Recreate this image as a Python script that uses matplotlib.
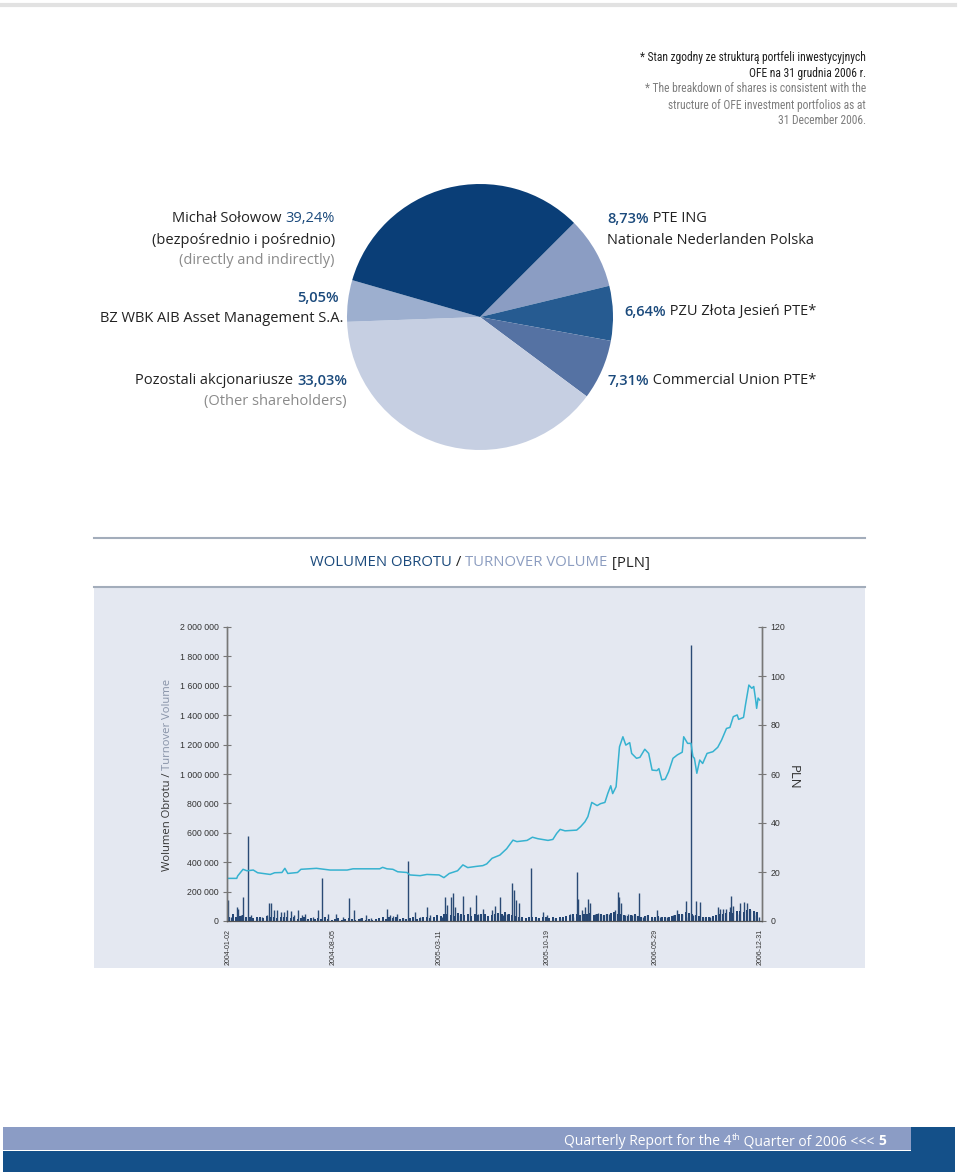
import matplotlib
matplotlib.use('Agg')
import matplotlib.pyplot as plt
import matplotlib.ticker as mticker
from matplotlib import font_manager
import pandas as pd
from matplotlib.patches import Rectangle
from matplotlib.lines import Line2D

# ---------------- DATA ----------------
# Pie (shareholder structure) - wedge order clockwise from upper right, as drawn
wedge_names = ["PTE ING", "PZU Złota Jesień", "Commercial Union", "Pozostali", "BZ WBK AIB", "Michał Sołowow"]
wedge_sizes = [8.73, 6.64, 7.31, 39.24, 5.05, 33.03]
wedge_colors = ["#8b9dc3", "#265b91", "#5572a3", "#c6cfe2", "#9dafcf", "#0a3e77"]

# Price line (PLN)
price_dates = [
    "2004-01-02", "2004-01-20", "2004-01-22", "2004-02-02", "2004-02-10", "2004-02-23", "2004-03-03",
    "2004-03-29", "2004-04-07", "2004-04-22", "2004-04-28", "2004-05-04", "2004-05-24", "2004-05-31",
    "2004-07-02", "2004-07-30", "2004-09-03", "2004-09-15", "2004-11-09", "2004-11-15", "2004-11-24",
    "2004-12-06", "2004-12-16", "2005-01-04", "2005-01-10", "2005-01-31", "2005-02-14", "2005-03-11",
    "2005-03-21", "2005-04-01", "2005-04-18", "2005-04-29", "2005-05-09", "2005-05-27", "2005-06-09",
    "2005-06-17", "2005-06-28", "2005-07-14", "2005-07-28", "2005-08-04", "2005-08-10", "2005-08-18",
    "2005-09-08", "2005-09-19", "2005-09-30", "2005-10-21", "2005-10-31", "2005-11-08", "2005-11-15",
    "2005-11-25", "2005-12-19", "2005-12-27", "2006-01-05", "2006-01-11", "2006-01-19", "2006-01-30",
    "2006-02-06", "2006-02-15", "2006-02-21", "2006-02-27", "2006-03-03", "2006-03-10", "2006-03-17",
    "2006-03-24", "2006-03-30", "2006-04-07", "2006-04-11", "2006-04-21", "2006-04-28", "2006-05-08",
    "2006-05-16", "2006-05-23", "2006-06-02", "2006-06-06", "2006-06-12", "2006-06-19", "2006-06-26",
    "2006-07-05", "2006-07-14", "2006-07-24", "2006-07-27", "2006-08-04", "2006-08-11", "2006-08-15",
    "2006-08-18", "2006-08-23", "2006-08-29", "2006-09-04", "2006-09-13", "2006-09-25", "2006-10-05",
    "2006-10-13", "2006-10-23", "2006-10-30", "2006-11-06", "2006-11-14", "2006-11-17", "2006-11-27",
    "2006-12-01", "2006-12-08", "2006-12-14", "2006-12-18", "2006-12-22", "2006-12-24", "2006-12-27",
    "2006-12-30",
]
price_values = [
    17.4, 17.4, 18.4, 21.1, 20.5, 20.8, 19.7,
    19.0, 19.7, 19.8, 21.5, 19.4, 19.8, 21.1,
    21.5, 20.8, 20.8, 21.3, 21.3, 21.9, 21.3,
    21.1, 20.1, 19.8, 18.8, 18.5, 19.0, 18.8,
    17.7, 19.4, 20.5, 22.9, 21.8, 22.3, 22.6,
    23.3, 25.6, 26.9, 29.5, 31.4, 33.0, 32.4,
    32.9, 34.2, 33.6, 32.9, 33.3, 35.8, 37.4,
    36.8, 37.1, 38.5, 40.5, 42.6, 48.4, 47.1,
    47.9, 48.4, 52.1, 55.2, 52.0, 54.8, 71.1,
    75.2, 71.8, 72.8, 68.4, 66.4, 66.8, 70.1,
    68.4, 61.6, 61.4, 62.2, 57.6, 57.9, 60.9,
    66.4, 67.8, 68.9, 75.2, 72.5, 72.5, 67.1,
    66.4, 60.3, 65.7, 64.3, 68.4, 69.1, 70.9,
    73.9, 78.6, 79.0, 83.4, 84.1, 82.3, 83.1,
    88.2, 96.3, 95.0, 95.7, 90.2, 86.8, 91.0,
    90.2,
]

# Notable volume sessions (PLN)
spike_dates = [
    "2004-01-02", "2004-01-09", "2004-01-20", "2004-01-22", "2004-01-29", "2004-02-02", "2004-02-13",
    "2004-02-18", "2004-03-01", "2004-03-11", "2004-03-22", "2004-03-26", "2004-03-31", "2004-04-05",
    "2004-04-12", "2004-04-21", "2004-04-26", "2004-05-03", "2004-05-10", "2004-05-17", "2004-05-26",
    "2004-06-02", "2004-06-08", "2004-06-25", "2004-07-06", "2004-07-14", "2004-07-26", "2004-08-11",
    "2004-08-26", "2004-09-07", "2004-09-17", "2004-09-29", "2004-10-12", "2004-10-22", "2004-11-23",
    "2004-11-30", "2004-12-07", "2004-12-14", "2004-12-27", "2005-01-07", "2005-01-20", "2005-01-31",
    "2005-02-14", "2005-02-21", "2005-03-18", "2005-03-23", "2005-03-28", "2005-04-04", "2005-04-08",
    "2005-04-12", "2005-04-18", "2005-04-29", "2005-05-13", "2005-05-26", "2005-05-31", "2005-06-10",
    "2005-06-27", "2005-07-04", "2005-07-15", "2005-07-21", "2005-07-29", "2005-08-08", "2005-08-12",
    "2005-08-17", "2005-08-22", "2005-08-26", "2005-09-16", "2005-09-27", "2005-10-11", "2005-10-18",
    "2005-11-01", "2005-11-14", "2005-12-05", "2005-12-12", "2005-12-19", "2005-12-22", "2005-12-29",
    "2006-01-05", "2006-01-12", "2006-01-16", "2006-01-26", "2006-02-01", "2006-02-07", "2006-02-17",
    "2006-02-24", "2006-03-07", "2006-03-14", "2006-03-17", "2006-03-21", "2006-03-28", "2006-04-04",
    "2006-04-11", "2006-04-18", "2006-04-26", "2006-05-05", "2006-05-12", "2006-05-22", "2006-06-02",
    "2006-06-08", "2006-06-22", "2006-07-05", "2006-07-14", "2006-07-24", "2006-07-31", "2006-08-04",
    "2006-08-10", "2006-08-15", "2006-08-21", "2006-08-29", "2006-09-05", "2006-09-19", "2006-10-05",
    "2006-10-10", "2006-10-16", "2006-10-23", "2006-10-30", "2006-11-02", "2006-11-06", "2006-11-13",
    "2006-11-20", "2006-11-28", "2006-12-04", "2006-12-11", "2006-12-18", "2006-12-22", "2006-12-29",
]
spike_volumes = [
    143000, 27000, 97000, 80000, 41000, 165000, 578000,
    41000, 18000, 27000, 41000, 120000, 120000, 76000,
    76000, 64000, 64000, 77000, 70000, 41000, 75000,
    41000, 50000, 27000, 77000, 290000, 50000, 45000,
    27000, 159000, 77000, 18000, 41000, 18000, 83000,
    41000, 35000, 50000, 23000, 410000, 64000, 27000,
    93000, 41000, 27000, 165000, 109000, 165000, 188000,
    93000, 41000, 170000, 93000, 175000, 50000, 83000,
    75000, 100000, 160000, 41000, 50000, 260000, 211000,
    143000, 120000, 18000, 360000, 18000, 64000, 41000,
    18000, 18000, 50000, 27000, 331000, 150000, 76000,
    93000, 150000, 120000, 50000, 55000, 41000, 50000,
    50000, 76000, 197000, 165000, 120000, 41000, 50000,
    41000, 41000, 188000, 27000, 41000, 18000, 77000,
    27000, 27000, 41000, 76000, 50000, 135000, 27000,
    1878000, 41000, 135000, 127000, 27000, 27000, 93000,
    83000, 83000, 83000, 93000, 170000, 100000, 50000,
    120000, 127000, 120000, 76000, 64000, 41000, 27000,
]

# Background weekly turnover (PLN thousands), weeks starting 2004-01-05
base_start = "2004-01-05"
base_volumes_k = [
    30, 45, 25, 35, 40, 30, 25, 20, 25, 30, 20, 35, 25, 30, 20, 25, 30,
    25, 20, 30, 15, 20, 25, 15, 20, 15, 20, 15, 25, 15, 10, 15, 20, 10, 15,
    20, 15, 10, 15, 20, 10, 15, 10, 15, 20, 25, 15, 30, 20, 25, 15, 20,
    15, 20, 25, 15, 20, 25, 30, 20, 25, 40, 35, 50, 45, 40, 35, 55, 45,
    40, 50, 35, 45, 40, 50, 45, 35, 40, 45, 55, 50, 60, 50, 40, 35, 30, 25,
    20, 25, 30, 25, 20, 30, 25, 20, 25, 20, 25, 30, 35, 40, 45, 50, 40,
    50, 45, 55, 40, 45, 50, 40, 45, 55, 60, 50, 45, 40, 35, 40, 45, 35,
    30, 35, 40, 30, 25, 35, 30, 25, 30, 35, 40, 45, 50, 60, 55, 45, 40, 35,
    30, 25, 30, 35, 40, 45, 50, 55, 60, 55, 65, 70, 60, 75, 80, 70, 60,
]

xtick_labels = ["2004-01-02", "2004-08-05", "2005-03-11", "2005-10-19", "2006-05-29", "2006-12-31"]
vol_ticks = [0, 200000, 400000, 600000, 800000, 1000000, 1200000, 1400000, 1600000, 1800000, 2000000]
price_ticks = [0, 20, 40, 60, 80, 100, 120]

# ---------------- FIGURE ----------------
W, H = 960, 1175
fig = plt.figure(figsize=(W / 100, H / 100), dpi=100)
fig.patch.set_facecolor("white")

MAIN = ["Open Sans", "Noto Sans", "DejaVu Sans"]
_installed = {f.name for f in font_manager.fontManager.ttflist}
if "Roboto Condensed" in _installed:
    NARROW, NOTE_SIZE = ["Roboto Condensed", "DejaVu Sans"], 8.3
elif "Liberation Sans Narrow" in _installed:
    NARROW, NOTE_SIZE = ["Liberation Sans Narrow", "DejaVu Sans"], 8.5
else:
    NARROW, NOTE_SIZE = ["Roboto", "Liberation Sans", "DejaVu Sans"], 7.9
SMALL = ["Liberation Sans", "DejaVu Sans"]
BLUE = "#1b4a7c"
GRAY = "#8a8a8a"
TXT = "#222222"


def fx(px):
    return px / W


def fy(py):
    return 1 - py / H


renderer = fig.canvas.get_renderer()


def rich(x, y, parts, ha="left", va="center", size=10.5, family=MAIN):
    texts = []
    for s, kw in parts:
        kw = dict(kw)
        dy = kw.pop("dy", 0)
        opts = dict(fontsize=size, family=family, color=TXT, va=va, ha="left")
        opts.update(kw)
        t = fig.text(0, fy(y - dy), s, **opts)
        texts.append(t)
    widths = [t.get_window_extent(renderer).width / fig.bbox.width for t in texts]
    total = sum(widths)
    if ha == "left":
        start = fx(x)
    elif ha == "right":
        start = fx(x) - total
    else:
        start = fx(x) - total / 2
    for t, w in zip(texts, widths):
        t.set_x(start)
        start += w
    return texts


# top rule
fig.add_artist(Line2D([0.0, fx(955)], [fy(5), fy(5)], color="#e2e2e2", lw=3))

# footnote
notes = [
    ("* Stan zgodny ze strukturą portfeli inwestycyjnych", "#1e1e1e", 57),
    ("OFE na 31 grudnia 2006 r.", "#1e1e1e", 73),
    ("* The breakdown of shares is consistent with the", "#7d7d7d", 89),
    ("structure of OFE investment portfolios as at", "#7d7d7d", 105),
    ("31 December 2006.", "#7d7d7d", 121),
]
for s, c, yy in notes:
    fig.text(fx(866), fy(yy), s, ha="right", va="center", fontsize=NOTE_SIZE, family=NARROW, color=c)

# ---------------- PIE ----------------
pcx, pcy, pr = 480, 317, 133
ax_pie = fig.add_axes([fx(pcx - pr), fy(pcy + pr), 2 * pr / W, 2 * pr / H])
ax_pie.pie(wedge_sizes, colors=wedge_colors, startangle=45, counterclock=False,
           wedgeprops=dict(linewidth=0))
ax_pie.set_xlim(-1, 1)
ax_pie.set_ylim(-1, 1)
ax_pie.set_aspect("auto")
ax_pie.axis("off")

PB = dict(color=BLUE, weight="semibold")
rich(335, 219, [("Michał Sołowow ", {}), ("39,24%", dict(color=BLUE))], ha="right")
rich(335, 240, [("(bezpośrednio i pośrednio)", {})], ha="right")
rich(335, 261, [("(directly and indirectly)", dict(color=GRAY))], ha="right")
rich(339, 298, [("5,05%", PB)], ha="right")
rich(343, 318, [("BZ WBK AIB Asset Management S.A.", {})], ha="right")
rich(347, 381, [("Pozostali akcjonariusze ", {}), ("33,03%", PB)], ha="right")
rich(347, 401, [("(Other shareholders)", dict(color=GRAY))], ha="right")

rich(607, 219, [("8,73%", PB), (" PTE ING", {})], ha="left")
rich(607, 240, [("Nationale Nederlanden Polska", {})], ha="left")
rich(624, 312, [("6,64%", PB), (" PZU Złota Jesień PTE*", {})], ha="left")
rich(607, 381, [("7,31%", PB), (" Commercial Union PTE*", {})], ha="left")

# ---------------- VOLUME CHART SECTION ----------------
fig.add_artist(Line2D([fx(94), fx(865)], [fy(538), fy(538)], color="#a3adbb", lw=1.5))
rich(480, 563, [("WOLUMEN OBROTU", dict(color=BLUE)), (" / ", {}),
                ("TURNOVER VOLUME", dict(color="#8c9dc0")), (" [PLN]", {})],
     ha="center", size=10.7)
fig.add_artist(Line2D([fx(94), fx(865)], [fy(587), fy(587)], color="#a3adbb", lw=1.5))
fig.add_artist(Rectangle((fx(94), fy(968)), fx(865) - fx(94), fy(588) - fy(968),
                         facecolor="#e4e8f1", edgecolor="none", zorder=0))

ax = fig.add_axes([fx(227), fy(921), (762 - 227) / W, (921 - 627) / H])
ax.patch.set_alpha(0)
ax2 = ax.twinx()
ax2.patch.set_alpha(0)

base_dates = pd.date_range(base_start, periods=len(base_volumes_k), freq="7D")
ax.vlines(base_dates, 0, [v * 1000 for v in base_volumes_k], color="#1f4271", lw=1.4)
ax.vlines(pd.to_datetime(spike_dates), 0, spike_volumes, color="#2a4a75", lw=1.0)

ax2.plot(pd.to_datetime(price_dates), price_values, color="#36b2d0", lw=1.1)

ax.set_ylim(0, 2000000)
ax2.set_ylim(0, 120)
ax.set_xlim(pd.Timestamp("2003-12-31"), pd.Timestamp("2007-01-04"))

ax.set_yticks(vol_ticks)
ax.yaxis.set_major_formatter(mticker.FuncFormatter(lambda v, p: f"{int(v):,}".replace(",", " ")))
ax2.set_yticks(price_ticks)

ax.set_xticks(pd.to_datetime(xtick_labels))
ax.set_xticklabels(xtick_labels, rotation=90, fontsize=5, family=SMALL, color="#333333", va="top")
ax.tick_params(axis="x", length=0, pad=6)
ax.tick_params(axis="y", direction="inout", length=6, width=0.8, color="#777777",
               labelsize=6.3, labelcolor="#333333", pad=3)
ax2.tick_params(axis="y", direction="inout", length=6, width=0.8, color="#777777",
                labelsize=6.3, labelcolor="#333333", pad=3)
for lab in ax.get_yticklabels() + ax2.get_yticklabels():
    lab.set_family(SMALL)

for a in (ax, ax2):
    a.spines["top"].set_visible(False)
    a.spines["left"].set_color("#777777")
    a.spines["right"].set_color("#777777")
    a.spines["bottom"].set_color("#555555")
    a.spines["left"].set_linewidth(1)
    a.spines["right"].set_linewidth(1)
    a.spines["bottom"].set_linewidth(0.8)

# y-axis titles
t1 = fig.text(fx(167), fy(871), "Wolumen Obrotu / ", rotation=90, ha="center", va="bottom",
              fontsize=8.1, family=MAIN, color="#333333")
ext = t1.get_window_extent(renderer)
fig.text(fx(167), ext.y1 / fig.bbox.height, "Turnover Volume", rotation=90, ha="center", va="bottom",
         fontsize=8.1, family=MAIN, color="#8893a8")
fig.text(fx(793), fy(777), "PLN", rotation=270, ha="center", va="center",
         fontsize=9.5, family=MAIN, color="#333333")

# ---------------- FOOTER ----------------
fig.add_artist(Rectangle((fx(3), fy(1150)), fx(911) - fx(3), fy(1127) - fy(1150),
                         facecolor="#8b9cc5", edgecolor="none"))
fig.add_artist(Rectangle((fx(3), fy(1172)), fx(955) - fx(3), fy(1151) - fy(1172),
                         facecolor="#145089", edgecolor="none"))
fig.add_artist(Rectangle((fx(911), fy(1172)), fx(955) - fx(911), fy(1127) - fy(1172),
                         facecolor="#145089", edgecolor="none"))
rich(886, 1145, [("Quarterly Report for the 4", dict(color="white")),
                 ("th", dict(color="white", fontsize=6.5, dy=5)),
                 (" Quarter of 2006 <<< ", dict(color="white")),
                 ("5", dict(color="white", weight="bold"))],
     ha="right", va="baseline", size=10)

fig.savefig("out.png", dpi=100)
